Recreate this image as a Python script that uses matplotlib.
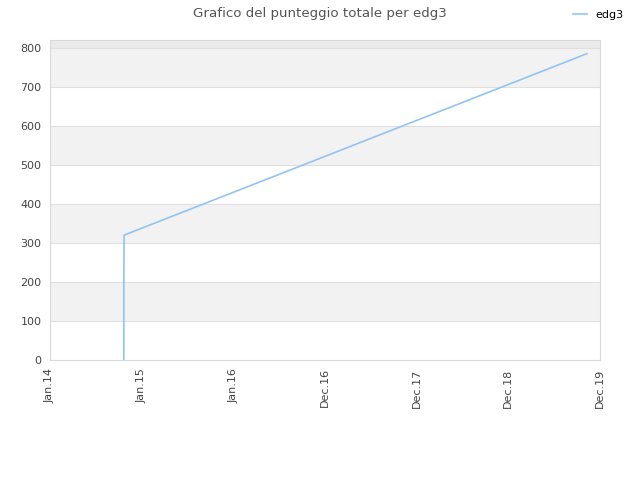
import matplotlib
matplotlib.use("Agg")
import matplotlib.pyplot as plt
import numpy as np
from datetime import date, timedelta

# dati
dates = [date(2014, 10, 22), date(2014, 10, 22), date(2014, 10, 23), date(2019, 11, 9)]
scores = [0, 180, 320, 785]

start = date(2014, 1, 1)
tick_labels = ['Jan.14', 'Jan.15', 'Jan.16', 'Dec.16', 'Dec.17', 'Dec.18', 'Dec.19']

x = [(d - start).days for d in dates]
tick_pos = [365 * i for i in range(len(tick_labels))]

fig = plt.figure(figsize=(6.4, 4.8), dpi=100)
ax = fig.add_axes([50 / 640, 120 / 480, 550 / 640, 320 / 480])

ymax = 820
# bande alternate
for y0 in range(0, 900, 100):
    if (y0 // 100) % 2 == 1:
        ax.axhspan(y0, y0 + 100, color='#f2f2f2', zorder=0, lw=0)
ax.axhspan(800, ymax, color='#ebebeb', zorder=0, lw=0)
for y0 in range(100, 900, 100):
    ax.axhline(y0, color='#e0e0e0', lw=0.8, zorder=1)

ax.plot(x, scores, color='#90c4f4', lw=1.2, label='edg3', zorder=3)

ax.set_xlim(0, tick_pos[-1])
ax.set_ylim(0, ymax)
ax.set_xticks(tick_pos)
ax.set_xticklabels(tick_labels, rotation=90)
ax.set_yticks(range(0, 900, 100))
ax.tick_params(length=0, labelsize=8, colors='#444444', pad=6)
for s in ax.spines.values():
    s.set_color('#d9d9d9')

fig.suptitle('Grafico del punteggio totale per edg3', fontsize=9.6, color='#555555', y=0.985)
fig.legend(loc='upper right', bbox_to_anchor=(0.99, 1.0), frameon=False, fontsize=8,
           handlelength=1.2)

fig.savefig('out.png', dpi=100)
